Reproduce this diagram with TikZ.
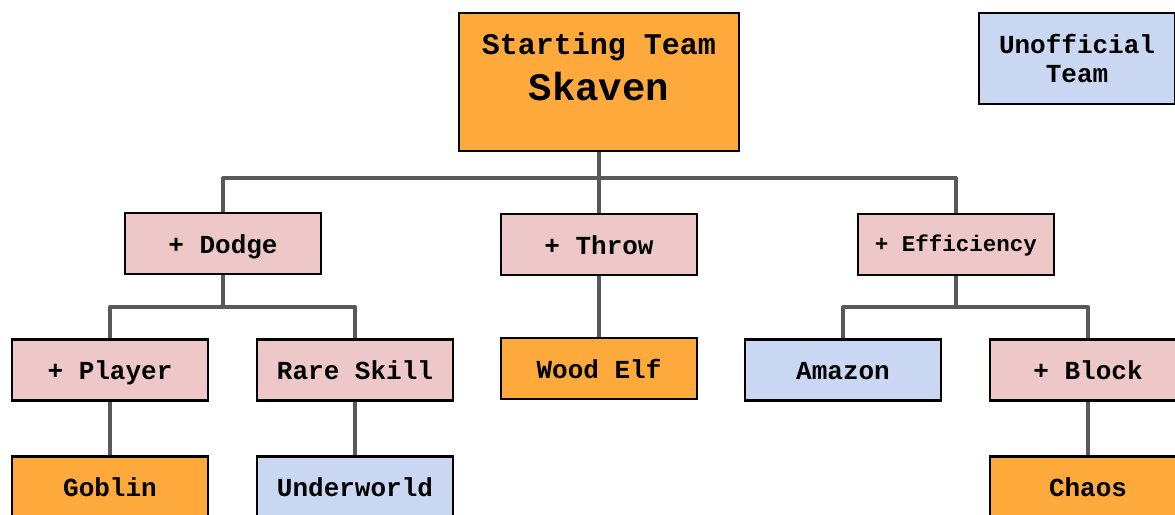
\documentclass[tikz,border=0pt]{standalone}
\usepackage{fontspec}
\setmainfont{Liberation Mono}
\usetikzlibrary{backgrounds}
\definecolor{orangef}{HTML}{FDA93B}
\definecolor{pinkf}{HTML}{EEC8C8}
\definecolor{bluef}{HTML}{C9D7F3}
\definecolor{connc}{HTML}{595959}
\begin{document}
\begin{tikzpicture}[x=1pt,y=-1pt,
  box/.style={draw=black, line width=2.5pt, minimum width=196pt, minimum height=61pt,
    inner sep=0pt, align=center, font=\fontsize{26}{29}\selectfont\bfseries},
  onebox/.style={text height=19pt, text depth=0pt},
  orangebox/.style={box, fill=orangef},
  pinkbox/.style={box, fill=pinkf},
  bluebox/.style={box, fill=bluef},
  conn/.style={draw=connc, line width=4pt, line join=round}]
\useasboundingbox (0,0) rectangle (1175,514);
\clip (0,0) rectangle (1175,514);
% nodes
\node[orangebox, minimum width=280pt, minimum height=138pt] (sk) at (599,82)
  {\raisebox{11pt}[\height][\depth]{\begin{tabular}{@{}c@{}}\fontsize{30}{30}\selectfont Starting Team\\[9pt]\fontsize{39}{39}\selectfont Skaven\end{tabular}}};
\node[bluebox, minimum height=91pt] (unoff) at (1077,58.5) {Unofficial\\Team};
\node[pinkbox, onebox] (dodge) at (223,243.5) {+ Dodge};
\node[pinkbox, onebox] (throw) at (599,244.5) {+ Throw};
\node[pinkbox, onebox, font=\fontsize{22.5}{26}\selectfont\bfseries, text height=13pt] (eff) at (956,244.5) {+ Efficiency};
\node[pinkbox, onebox] (player) at (110,370) {+ Player};
\node[pinkbox, onebox] (rare) at (355,370) {Rare Skill};
\node[orangebox, onebox] (wood) at (599,368.5) {Wood Elf};
\node[bluebox, onebox] (amazon) at (843,370) {Amazon};
\node[pinkbox, onebox] (block) at (1088,370) {+ Block};
\node[orangebox, onebox] (goblin) at (110,487) {Goblin};
\node[bluebox, onebox] (under) at (355,487) {Underworld};
\node[orangebox, onebox] (chaos) at (1088,487) {Chaos};
% connectors
\coordinate (j0) at (599,178);
\coordinate (j1) at (223,307);
\coordinate (j2) at (956,307);
\begin{pgfonlayer}{background}
\draw[conn] (sk.south) -- (throw.north);
\draw[conn] (dodge.north) |- (j0) -| (eff.north);
\draw[conn] (dodge.south) -- (j1);
\draw[conn] (player.north) |- (j1) -| (rare.north);
\draw[conn] (eff.south) -- (j2);
\draw[conn] (amazon.north) |- (j2) -| (block.north);
\draw[conn] (player.south) -- (goblin.north);
\draw[conn] (rare.south) -- (under.north);
\draw[conn] (throw.south) -- (wood.north);
\draw[conn] (block.south) -- (chaos.north);
\end{pgfonlayer}
\end{tikzpicture}
\end{document}
